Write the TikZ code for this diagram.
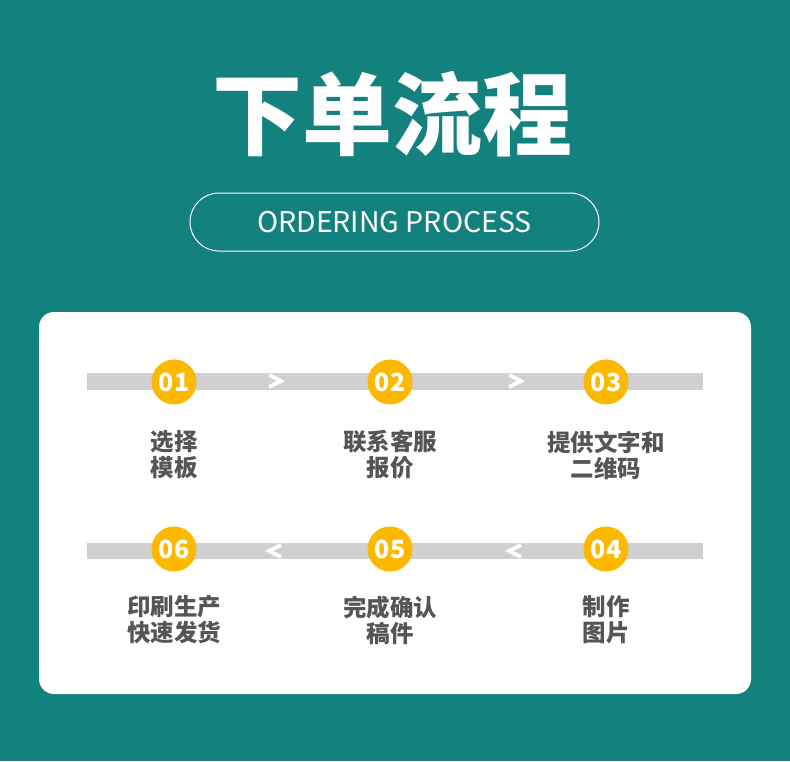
\documentclass[tikz,border=0pt]{standalone}
\usepackage{fontspec}
\newfontfamily\cjk{Noto Sans CJK SC}
\definecolor{teal1}{HTML}{13817E}
\definecolor{orng}{HTML}{FCB900}
\definecolor{barg}{HTML}{D0D0D0}
\definecolor{txtg}{HTML}{555555}
\begin{document}
\begin{tikzpicture}[x=1pt,y=-1pt,
  num/.style={circle,fill=orng,minimum size=45pt,inner sep=0pt,text=white,font=\cjk\bfseries\fontsize{25}{25}\selectfont},
  lbl/.style={align=center,inner sep=0pt,text=txtg,font=\cjk\bfseries\fontsize{23.5}{26}\selectfont},
  chev/.style={white,line width=3.6pt,line join=miter},
  bar/.style={fill=barg,draw=none}]
\useasboundingbox (0,0) rectangle (790,761);
\fill[teal1] (0,0) rectangle (790,761);
\fill[white,rounded corners=15pt] (39,312) rectangle (751,694);
% title
\node[inner sep=0pt,text=white,font=\cjk\bfseries\fontsize{90}{90}\selectfont] (title) at (392,114) {下单流程};
\node[draw=white,line width=1pt,rounded corners=29pt,minimum width=409pt,minimum height=58pt,inner sep=0pt,text=white,font=\cjk\fontsize{28.5}{28.5}\selectfont] (sub) at (394.5,222) {ORDERING PROCESS};
% bars
\fill[bar] (87,373) rectangle (703,390);
\fill[bar] (87,543) rectangle (703,559);
% circles
\node[num] (n1) at (174,382) {01};
\node[num] (n2) at (390,382) {02};
\node[num] (n3) at (606,382) {03};
\node[num] (n6) at (174,549) {06};
\node[num] (n5) at (390,549) {05};
\node[num] (n4) at (606,549) {04};
% chevrons
\coordinate (c12) at (275,381);
\coordinate (c23) at (515,381);
\coordinate (c65) at (275,551);
\coordinate (c54) at (515,551);
\draw[chev] ([shift={(-6,-6)}]c12) -- ([shift={(6,0)}]c12) -- ([shift={(-6,6)}]c12);
\draw[chev] ([shift={(-6,-6)}]c23) -- ([shift={(6,0)}]c23) -- ([shift={(-6,6)}]c23);
\draw[chev] ([shift={(6,-6)}]c65) -- ([shift={(-6,0)}]c65) -- ([shift={(6,6)}]c65);
\draw[chev] ([shift={(6,-6)}]c54) -- ([shift={(-6,0)}]c54) -- ([shift={(6,6)}]c54);
% labels
\node[lbl] (l1) at (174,455) {选择\\模板};
\node[lbl] (l2) at (390,455) {联系客服\\报价};
\node[lbl] (l3) at (606,455) {提供文字和\\二维码};
\node[lbl] (l6) at (174,620) {印刷生产\\快速发货};
\node[lbl] (l5) at (390,620) {完成确认\\稿件};
\node[lbl] (l4) at (606,620) {制作\\图片};
\end{tikzpicture}
\end{document}
